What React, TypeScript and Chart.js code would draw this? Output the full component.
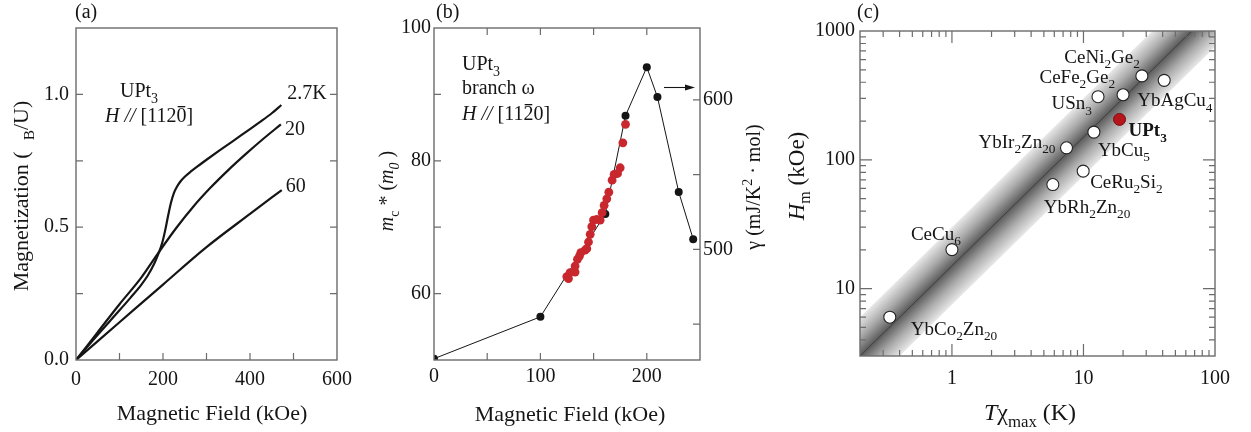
import React, { useEffect, useRef } from 'react';
import { Chart, registerables } from 'chart.js';

Chart.register(...registerables);

const FONT = '"Liberation Serif", "Times New Roman", Times, serif';
const INK = '#151515';
const AXIS = '#6c6c6c';

// ---------- Panel (a): magnetization curves of UPt3 ----------
const fieldK2_7 = [0, 50, 100, 125, 150, 165, 180, 190, 198, 205, 212, 218, 225, 232, 240, 250, 265, 280, 300, 330, 360, 390, 420, 450, 472];
const magK2_7 = [0, 0.095, 0.187, 0.234, 0.283, 0.318, 0.363, 0.402, 0.44, 0.488, 0.545, 0.59, 0.628, 0.652, 0.672, 0.69, 0.711, 0.73, 0.754, 0.789, 0.823, 0.858, 0.893, 0.929, 0.96];
const fieldK20 = [0, 50, 100, 150, 190, 230, 270, 310, 350, 390, 430, 471];
const magK20 = [0, 0.105, 0.21, 0.31, 0.405, 0.496, 0.578, 0.65, 0.715, 0.775, 0.832, 0.887];
const fieldK60 = [0, 100, 200, 300, 400, 473];
const magK60 = [0, 0.142, 0.284, 0.425, 0.55, 0.64];
const curveLabelsA = ['2.7K', '20', '60'];

// ---------- Panel (b): cyclotron mass, branch omega ----------
const fieldBlack = [0, 100, 161, 180, 200, 210, 230, 243.6];
const massBlack = [50.2, 56.5, 72.0, 86.8, 94.1, 89.6, 75.3, 68.2];
const fieldRed = [124.8, 126.4, 127.9, 132.6, 132.6, 134.8, 136.7, 138, 142, 143.6, 145.2, 146.8, 148.3, 149.9, 153, 156.2, 158, 159.9, 162.4, 164.3, 167.4, 169.3, 172.5, 175, 177.5, 180];
const massRed = [62.56, 62.26, 63.16, 63.25, 64.15, 65.16, 65.66, 66.17, 66.56, 66.77, 67.77, 68.92, 70.07, 71.07, 71.17, 71.07, 72.18, 73.28, 74.28, 75.28, 77.08, 77.94, 78.09, 78.95, 82.7, 85.5];

// ---------- Panel (c): Hm vs T_chi_max ----------
const compounds = ['YbCo2Zn20', 'CeCu6', 'YbRh2Zn20', 'CeRu2Si2', 'YbIr2Zn20', 'YbCu5', 'USn3', 'CeFe2Ge2', 'CeNi2Ge2', 'YbAgCu4'];
const tChiMax = [0.337, 1.0, 5.85, 9.95, 7.43, 12.0, 12.9, 20.0, 27.8, 41.1];
const hMeta = [6.0, 20.1, 64.3, 81.7, 124, 164, 309, 320, 448, 414];
const upt3Name = 'UPt3';
const upt3T = [18.8];
const upt3H = [206];
const fitT = [0.1, 200];
const fitH = [1.5, 3000];
const bandUpperH = [3, 6000];
const bandLowerH = [0.75, 1500];

// label placement (pixels relative to each point): dx, dy, align
const labelPlaceC: [number, number, string][] = [
  [21, 17.5, 'left'], [-41, -10, 'left'], [-9, 28, 'left'], [7, 17, 'left'], [-11, 0, 'right'],
  [4, 24, 'left'], [-6, 12.5, 'right'], [-8, -12, 'right'], [-2, -13, 'right'], [-27, 26, 'left'],
];

// ---------- rich text helper ----------
type Part = { t: string; sub?: boolean; sup?: boolean; it?: boolean; b?: boolean; bar?: boolean };

function fontFor(p: Part, size: number) {
  const s = p.sub || p.sup ? size * 0.7 : size;
  return `${p.it ? 'italic ' : ''}${p.b ? 'bold ' : ''}${s}px ${FONT}`;
}
function richWidth(ctx: CanvasRenderingContext2D, parts: Part[], size: number) {
  let w = 0;
  for (const p of parts) { ctx.font = fontFor(p, size); w += ctx.measureText(p.t).width; }
  return w;
}
function drawRich(ctx: CanvasRenderingContext2D, parts: Part[], x: number, y: number, size: number, align = 'left', rot = 0) {
  ctx.save();
  ctx.translate(x, y);
  if (rot) ctx.rotate(rot);
  const w = richWidth(ctx, parts, size);
  let cx = align === 'center' ? -w / 2 : align === 'right' ? -w : 0;
  ctx.textBaseline = 'alphabetic';
  ctx.textAlign = 'left';
  ctx.fillStyle = INK;
  for (const p of parts) {
    ctx.font = fontFor(p, size);
    const dy = p.sub ? size * 0.28 : p.sup ? -size * 0.4 : 0;
    ctx.fillText(p.t, cx, dy);
    const pw = ctx.measureText(p.t).width;
    if (p.bar) ctx.fillRect(cx + pw * 0.12, -size * 0.8, pw * 0.76, 1.3);
    cx += pw;
  }
  ctx.restore();
}
function chem(s: string, b = false): Part[] {
  const out: Part[] = [];
  for (const seg of s.split(/(\d+)/)) {
    if (!seg) continue;
    out.push({ t: seg, sub: /^\d+$/.test(seg), b });
  }
  return out;
}

// ---------- axis decoration helpers ----------
type TickSpec = { id: string; side: 'left' | 'right' | 'top' | 'bottom'; len: number; minor?: number; isMajor?: (v: number) => boolean };

function drawFrame(chart: any) {
  const { ctx, chartArea: a } = chart;
  ctx.save();
  ctx.strokeStyle = AXIS;
  ctx.lineWidth = 1.4;
  ctx.strokeRect(a.left, a.top, a.right - a.left, a.bottom - a.top);
  ctx.restore();
}
function drawTicks(chart: any, specs: TickSpec[]) {
  const { ctx, chartArea: a } = chart;
  ctx.save();
  ctx.strokeStyle = AXIS;
  ctx.lineWidth = 1.2;
  ctx.beginPath();
  for (const s of specs) {
    const sc = chart.scales[s.id];
    for (const t of sc.ticks) {
      const p = sc.getPixelForValue(t.value);
      const L = s.isMajor && !s.isMajor(t.value) ? (s.minor ?? s.len) : s.len;
      if (s.side === 'bottom' || s.side === 'top') {
        if (p <= a.left + 1 || p >= a.right - 1) continue;
        if (s.side === 'bottom') { ctx.moveTo(p, a.bottom); ctx.lineTo(p, a.bottom - L); }
        else { ctx.moveTo(p, a.top); ctx.lineTo(p, a.top + L); }
      } else {
        if (p <= a.top + 1 || p >= a.bottom - 1) continue;
        if (s.side === 'left') { ctx.moveTo(a.left, p); ctx.lineTo(a.left + L, p); }
        else { ctx.moveTo(a.right, p); ctx.lineTo(a.right - L, p); }
      }
    }
  }
  ctx.stroke();
  ctx.restore();
}

const isDecade = (v: number) => Math.abs(Math.log10(v) - Math.round(Math.log10(v))) < 1e-6;
const keepIntegerMantissa = (scale: any) => {
  scale.ticks = scale.ticks.filter((t: any) => {
    const e = Math.floor(Math.log10(t.value) + 1e-9);
    const m = t.value / Math.pow(10, e);
    return Math.abs(m - Math.round(m)) < 1e-6;
  });
};

const tickFont = { family: FONT, size: 20 };
const baseAxis = {
  grid: { display: false, drawTicks: false },
  border: { display: false },
};

const pts = (xs: number[], ys: number[]) => xs.map((x, i) => ({ x, y: ys[i] }));

// ---------- Panel (a) ----------
function makeA(canvas: HTMLCanvasElement) {
  const series = [[fieldK2_7, magK2_7], [fieldK20, magK20], [fieldK60, magK60]];
  const labelOff = [[6, -6.5], [4, 11], [4, 2]];
  const decor = {
    id: 'decorA',
    afterDraw(chart: any) {
      const ctx = chart.ctx;
      drawFrame(chart);
      drawTicks(chart, [
        { id: 'x', side: 'bottom', len: 7 },
        { id: 'y', side: 'left', len: 7 },
        { id: 'y', side: 'right', len: 7 },
      ]);
      const xs = chart.scales.x, ys = chart.scales.y;
      series.forEach(([hx, my], i) => {
        const n = hx.length - 1;
        const px = xs.getPixelForValue(hx[n]), py = ys.getPixelForValue(my[n]);
        drawRich(ctx, [{ t: curveLabelsA[i] }], px + labelOff[i][0], py + labelOff[i][1], 20);
      });
      drawRich(ctx, [{ t: '(a)' }], 75, 18, 20);
      drawRich(ctx, chem('UPt3'), 120, 97, 20);
      drawRich(ctx, [{ t: 'H', it: true }, { t: ' // ', it: true }, { t: '[112' }, { t: '0', bar: true }, { t: ']' }], 105, 122, 20);
      drawRich(ctx, [{ t: 'Magnetic Field (kOe)' }], 212, 420, 22, 'center');
      drawRich(ctx, [{ t: 'Magnetization (  ' }, { t: 'B', sub: true }, { t: '/U)' }], 28, 196, 22, 'center', -Math.PI / 2);
    },
  };
  return new Chart(canvas, {
    type: 'scatter',
    data: {
      datasets: series.map(([hx, my]) => ({
        data: pts(hx, my),
        showLine: true,
        borderColor: INK,
        borderWidth: 2.2,
        pointRadius: 0,
        pointHoverRadius: 0,
        cubicInterpolationMode: 'monotone',
      })),
    },
    options: {
      responsive: false,
      animation: false,
      devicePixelRatio: 1,
      events: [],
      layout: { padding: { left: 0, top: 28, right: 17, bottom: 0 } },
      plugins: { legend: { display: false }, tooltip: { enabled: false } },
      scales: {
        x: {
          ...baseAxis, type: 'linear', min: 0, max: 600,
          afterFit: (s: any) => { s.height = 72; },
          ticks: { stepSize: 100, autoSkip: false, maxRotation: 0, padding: 8, font: tickFont, color: INK,
            callback: (v: any) => (Number(v) % 200 === 0 ? String(v) : '') },
        },
        y: {
          ...baseAxis, type: 'linear', min: 0, max: 1.25,
          afterFit: (s: any) => { s.width = 76; },
          ticks: { stepSize: 0.25, autoSkip: false, padding: 7, font: tickFont, color: INK,
            callback: (v: any) => ([0, 0.5, 1].some((u) => Math.abs(u - Number(v)) < 1e-9) ? Number(v).toFixed(1) : '') },
        },
      },
    } as any,
    plugins: [decor],
  });
}

// ---------- Panel (b) ----------
function makeB(canvas: HTMLCanvasElement) {
  const decor = {
    id: 'decorB',
    afterDraw(chart: any) {
      const ctx = chart.ctx;
      drawFrame(chart);
      drawTicks(chart, [
        { id: 'x', side: 'bottom', len: 7 },
        { id: 'x', side: 'top', len: 7 },
        { id: 'y', side: 'left', len: 7 },
        { id: 'y2', side: 'right', len: 7 },
      ]);
      drawRich(ctx, [{ t: '(b)' }], 76, 18, 20);
      drawRich(ctx, chem('UPt3'), 102, 70, 20);
      drawRich(ctx, [{ t: 'branch ω' }], 102, 94, 20);
      drawRich(ctx, [{ t: 'H', it: true }, { t: ' // ', it: true }, { t: '[11' }, { t: '2', bar: true }, { t: '0]' }], 102, 120, 20);
      // arrow pointing to the right axis
      ctx.save();
      ctx.strokeStyle = INK; ctx.fillStyle = INK; ctx.lineWidth = 1.1;
      ctx.beginPath(); ctx.moveTo(304, 87.5); ctx.lineTo(328, 87.5); ctx.stroke();
      ctx.beginPath(); ctx.moveTo(335, 87.5); ctx.lineTo(325, 84.5); ctx.lineTo(325, 90.5); ctx.closePath(); ctx.fill();
      ctx.restore();
      drawRich(ctx, [{ t: 'Magnetic Field (kOe)' }], 210, 421, 22, 'center');
      drawRich(ctx, [{ t: 'm', it: true }, { t: 'c', sub: true }, { t: ' *' }, { t: ' (' }, { t: 'm', it: true }, { t: '0', sub: true, it: true }, { t: ' )' }], 33, 191, 20, 'center', -Math.PI / 2);
      drawRich(ctx, [{ t: 'γ (mJ/K' }, { t: '2', sup: true }, { t: ' · mol)' }], 400, 187, 20, 'center', -Math.PI / 2);
    },
  };
  return new Chart(canvas, {
    type: 'scatter',
    data: {
      datasets: [
        {
          data: pts(fieldRed, massRed),
          showLine: false,
          pointRadius: 4.4,
          pointHoverRadius: 4.4,
          pointBackgroundColor: '#c8282d',
          pointBorderWidth: 0,
          borderWidth: 0,
        },
        {
          data: pts(fieldBlack, massBlack),
          showLine: true,
          borderColor: INK,
          borderWidth: 1,
          pointRadius: 4,
          pointHoverRadius: 4,
          pointBackgroundColor: INK,
          pointBorderWidth: 0,
        },
      ],
    },
    options: {
      responsive: false,
      animation: false,
      devicePixelRatio: 1,
      events: [],
      layout: { padding: { left: 0, top: 28, right: 0, bottom: 0 } },
      plugins: { legend: { display: false }, tooltip: { enabled: false } },
      scales: {
        x: {
          ...baseAxis, type: 'linear', min: 0, max: 250,
          afterFit: (s: any) => { s.height = 72; },
          ticks: { stepSize: 50, autoSkip: false, maxRotation: 0, padding: 5, font: tickFont, color: INK,
            callback: (v: any) => (Number(v) % 100 === 0 ? String(v) : '') },
        },
        y: {
          ...baseAxis, type: 'linear', position: 'left', min: 50, max: 100,
          afterFit: (s: any) => { s.width = 74; },
          ticks: { stepSize: 10, autoSkip: false, padding: 3, font: tickFont, color: INK,
            callback: (v: any) => (Number(v) % 20 === 0 ? String(v) : '') },
        },
        y2: {
          ...baseAxis, type: 'linear', position: 'right', min: 426, max: 648,
          afterFit: (s: any) => { s.width = 80; },
          ticks: { stepSize: 50, includeBounds: false, autoSkip: false, padding: 3, font: tickFont, color: INK,
            callback: (v: any) => (Number(v) % 100 === 0 ? String(v) : '') },
        },
      },
    } as any,
    plugins: [decor],
  });
}

// ---------- Panel (c) ----------
function makeC(canvas: HTMLCanvasElement) {
  const bandFill = (c: any) => {
    const chart = c.chart;
    const a = chart.chartArea;
    const xs = chart.scales.x, ys = chart.scales.y;
    if (!a || !xs || !ys) return 'rgba(120,120,120,0.6)';
    const p0x = xs.getPixelForValue(fitT[0]), p0y = ys.getPixelForValue(fitH[0]);
    const p1x = xs.getPixelForValue(fitT[1]), p1y = ys.getPixelForValue(fitH[1]);
    let dx = p1x - p0x, dy = p1y - p0y;
    const L = Math.hypot(dx, dy) || 1;
    dx /= L; dy /= L;
    const nx = -dy, ny = dx;
    const qx = xs.getPixelForValue(fitT[0]), qy = ys.getPixelForValue(bandUpperH[0]);
    const d = (qx - p0x) * nx + (qy - p0y) * ny;
    const g = chart.ctx.createLinearGradient(p0x - nx * d, p0y - ny * d, p0x + nx * d, p0y + ny * d);
    g.addColorStop(0, '#e8e8e8');
    g.addColorStop(0.25, '#ababab');
    g.addColorStop(0.5, '#5c5c5c');
    g.addColorStop(0.75, '#ababab');
    g.addColorStop(1, '#e8e8e8');
    return g;
  };
  const decor = {
    id: 'decorC',
    afterDraw(chart: any) {
      const ctx = chart.ctx;
      drawFrame(chart);
      drawTicks(chart, [
        { id: 'x', side: 'bottom', len: 12, minor: 6, isMajor: isDecade },
        { id: 'x', side: 'top', len: 12, minor: 6, isMajor: isDecade },
        { id: 'y', side: 'left', len: 12, minor: 6, isMajor: isDecade },
        { id: 'y', side: 'right', len: 12, minor: 6, isMajor: isDecade },
      ]);
      const xs = chart.scales.x, ys = chart.scales.y;
      compounds.forEach((name, i) => {
        const px = xs.getPixelForValue(tChiMax[i]), py = ys.getPixelForValue(hMeta[i]);
        const [dx, dy, al] = labelPlaceC[i];
        drawRich(ctx, chem(name), px + dx, py + dy, 19, al);
      });
      const ux = xs.getPixelForValue(upt3T[0]), uy = ys.getPixelForValue(upt3H[0]);
      drawRich(ctx, chem(upt3Name, true), ux + 9, uy + 17, 19);
      drawRich(ctx, [{ t: '(c)' }], 97, 18, 20);
      drawRich(ctx, [{ t: 'T', it: true }, { t: 'χ' }, { t: 'max', sub: true }, { t: ' (K)' }], 270, 420, 24, 'center');
      drawRich(ctx, [{ t: 'H', it: true }, { t: 'm', sub: true }, { t: ' (kOe)' }], 44, 176, 23, 'center', -Math.PI / 2);
    },
  };
  return new Chart(canvas, {
    type: 'scatter',
    data: {
      datasets: [
        {
          data: pts(tChiMax, hMeta),
          showLine: false,
          pointRadius: 6,
          pointHoverRadius: 6,
          pointBackgroundColor: '#ffffff',
          pointBorderColor: '#222',
          pointBorderWidth: 1.1,
          order: 0,
        },
        {
          data: pts(upt3T, upt3H),
          showLine: false,
          pointRadius: 6,
          pointHoverRadius: 6,
          pointBackgroundColor: '#b5161c',
          pointBorderColor: '#7a0e12',
          pointBorderWidth: 1,
          order: 0,
        },
        {
          data: pts(fitT, fitH),
          showLine: true,
          borderColor: '#3a3a3a',
          borderWidth: 0.8,
          pointRadius: 0,
          pointHoverRadius: 0,
          order: 1,
        },
        {
          data: pts(fitT, bandUpperH),
          showLine: true,
          borderWidth: 0,
          borderColor: 'rgba(0,0,0,0)',
          backgroundColor: bandFill,
          fill: '+1',
          pointRadius: 0,
          pointHoverRadius: 0,
          order: 2,
        },
        {
          data: pts(fitT, bandLowerH),
          showLine: true,
          borderWidth: 0,
          borderColor: 'rgba(0,0,0,0)',
          fill: false,
          pointRadius: 0,
          pointHoverRadius: 0,
          order: 3,
        },
      ],
    },
    options: {
      responsive: false,
      animation: false,
      devicePixelRatio: 1,
      events: [],
      layout: { padding: { left: 0, top: 31, right: 36, bottom: 0 } },
      plugins: { legend: { display: false }, tooltip: { enabled: false } },
      scales: {
        x: {
          ...baseAxis, type: 'logarithmic', min: 0.2, max: 100,
          afterBuildTicks: keepIntegerMantissa,
          afterFit: (s: any) => { s.height = 76; },
          ticks: { autoSkip: false, maxRotation: 0, padding: 11, font: tickFont, color: INK,
            callback: (v: any) => (isDecade(Number(v)) ? String(Math.round(Number(v))) : '') },
        },
        y: {
          ...baseAxis, type: 'logarithmic', min: 3, max: 1000,
          afterBuildTicks: keepIntegerMantissa,
          afterFit: (s: any) => { s.width = 100; },
          ticks: { autoSkip: false, padding: 5, font: tickFont, color: INK,
            callback: (v: any) => (isDecade(Number(v)) ? String(Math.round(Number(v))) : '') },
        },
      },
    } as any,
    plugins: [decor],
  });
}

export default function App() {
  const ra = useRef<HTMLCanvasElement>(null);
  const rb = useRef<HTMLCanvasElement>(null);
  const rc = useRef<HTMLCanvasElement>(null);
  useEffect(() => {
    const charts = [makeA(ra.current!), makeB(rb.current!), makeC(rc.current!)];
    return () => charts.forEach((c) => c.destroy());
  }, []);
  const cs = (left: number, width: number): React.CSSProperties => ({ position: 'absolute', left, top: 0, width, height: 432 });
  return (
    <div style={{ position: 'absolute', left: 0, top: 0, width: 1251, height: 432, background: '#ffffff', overflow: 'hidden' }}>
      <canvas ref={ra} width={360} height={432} style={cs(0, 360)} />
      <canvas ref={rb} width={420} height={432} style={cs(360, 420)} />
      <canvas ref={rc} width={491} height={432} style={cs(760, 491)} />
    </div>
  );
}
